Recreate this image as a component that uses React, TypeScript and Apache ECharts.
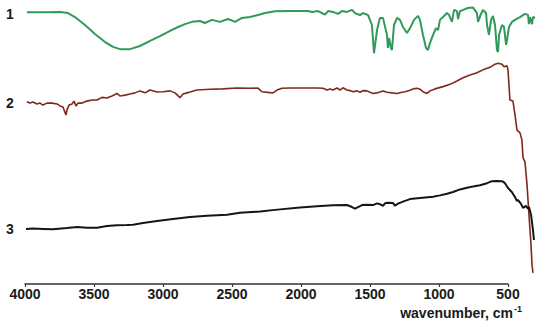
import React, { useEffect, useRef } from "react";
import * as echarts from "echarts";

// x-axis ticks (wavenumber, cm-1)
const xTicks = [4000, 3500, 3000, 2500, 2000, 1500, 1000, 500];
const dataRangeLow = 300; // spectra run past the last labelled tick
const curveLabels = ["1", "2", "3"];

// Spectrum 1 (green)
const wn1 = [3986, 3855, 3746, 3688, 3638, 3565, 3493, 3420, 3362, 3312, 3239, 3167, 3094, 3022, 2949, 2891, 2841, 2790, 2732, 2696, 2645, 2587, 2529, 2478, 2428, 2370, 2312, 2261, 2188, 2080, 1949, 1920, 1877, 1826, 1804, 1768, 1732, 1703, 1667, 1630, 1609, 1572, 1551, 1514, 1486, 1471, 1449, 1428, 1406, 1377, 1370, 1362, 1348, 1341, 1326, 1304, 1283, 1261, 1232, 1210, 1181, 1152, 1138, 1116, 1094, 1080, 1065, 1043, 1022, 1007, 993, 971, 942, 927, 906, 891, 870, 862, 848, 826, 790, 754, 725, 717, 696, 681, 659, 652, 638, 623, 609, 594, 580, 572, 565, 543, 529, 514, 507, 493, 471, 449, 413, 377, 355, 348, 341, 326, 319, 304];
const t1 = [95.7, 95.7, 95.8, 95.4, 94.0, 91.2, 88.0, 85.2, 83.5, 82.7, 82.7, 83.8, 85.6, 87.3, 89.1, 90.5, 91.5, 92.3, 92.6, 91.9, 93.0, 92.3, 93.3, 92.3, 93.7, 94.0, 94.7, 95.4, 96.0, 96.1, 96.1, 95.8, 96.1, 94.9, 96.1, 95.8, 95.1, 96.1, 95.8, 96.5, 95.4, 94.7, 95.4, 94.7, 91.2, 81.3, 89.4, 93.7, 93.7, 87.7, 83.1, 86.6, 83.1, 82.4, 91.2, 93.7, 93.0, 90.5, 88.4, 90.1, 93.0, 94.4, 93.0, 87.7, 83.1, 82.4, 84.9, 87.7, 90.1, 89.4, 93.0, 94.0, 95.4, 94.7, 92.3, 96.5, 96.1, 93.3, 96.1, 96.5, 97.2, 97.4, 95.4, 92.3, 95.1, 96.5, 95.4, 91.2, 87.7, 93.0, 94.4, 91.2, 82.4, 81.7, 87.7, 91.2, 90.5, 84.2, 85.9, 90.5, 92.3, 93.0, 94.0, 95.1, 94.7, 91.5, 94.0, 91.5, 94.0, 93.7];

// Spectrum 2 (brown)
const wn2 = [3986, 3964, 3942, 3913, 3891, 3870, 3841, 3804, 3768, 3746, 3725, 3703, 3696, 3681, 3659, 3645, 3630, 3616, 3587, 3551, 3514, 3478, 3442, 3406, 3370, 3333, 3312, 3275, 3239, 3203, 3167, 3130, 3094, 3043, 3000, 2949, 2913, 2877, 2855, 2826, 2804, 2754, 2659, 2565, 2464, 2370, 2312, 2283, 2225, 2203, 2174, 2138, 2080, 1986, 1884, 1841, 1812, 1790, 1768, 1739, 1717, 1696, 1667, 1645, 1623, 1594, 1572, 1551, 1522, 1500, 1478, 1449, 1428, 1406, 1377, 1341, 1304, 1268, 1246, 1210, 1188, 1159, 1138, 1116, 1087, 1065, 1029, 971, 920, 870, 826, 775, 725, 681, 630, 594, 572, 543, 529, 507, 500, 493, 486, 464, 449, 435, 413, 399, 391, 377, 362, 348, 333, 326, 319];
const t2 = [64.2, 63.7, 64.1, 63.4, 63.7, 63.0, 63.7, 63.7, 63.4, 62.7, 62.3, 59.5, 61.3, 63.0, 63.4, 64.4, 62.7, 63.7, 63.7, 64.4, 64.8, 64.8, 65.7, 65.5, 66.2, 67.1, 66.2, 66.5, 66.9, 67.3, 68.0, 67.3, 68.3, 67.6, 67.7, 68.0, 67.3, 65.6, 66.9, 67.3, 67.6, 68.3, 68.6, 68.7, 69.0, 68.9, 69.0, 67.7, 67.4, 67.3, 68.3, 68.9, 69.0, 69.0, 69.0, 68.9, 68.3, 68.7, 68.3, 69.0, 68.3, 69.1, 68.3, 68.1, 67.7, 68.0, 67.5, 68.1, 68.0, 67.5, 67.1, 67.3, 67.6, 68.0, 67.5, 67.3, 67.1, 67.5, 67.7, 68.2, 68.7, 68.9, 68.6, 67.7, 67.1, 68.0, 68.7, 69.5, 70.3, 71.5, 72.6, 73.6, 74.4, 75.4, 76.3, 77.4, 77.7, 77.4, 76.5, 76.8, 75.4, 70.1, 64.8, 64.4, 59.5, 54.2, 53.2, 50.7, 44.4, 43.0, 34.9, 24.3, 13.7, 6.7, 3.9];

// Spectrum 3 (black)
const wn3 = [3993, 3942, 3870, 3797, 3696, 3623, 3551, 3478, 3406, 3333, 3261, 3217, 3145, 3043, 2928, 2804, 2681, 2536, 2442, 2297, 2188, 2007, 1884, 1768, 1667, 1630, 1609, 1587, 1558, 1522, 1478, 1449, 1428, 1406, 1391, 1370, 1333, 1319, 1297, 1261, 1210, 1138, 1043, 993, 942, 898, 848, 797, 754, 703, 652, 616, 580, 543, 522, 500, 471, 449, 435, 428, 406, 391, 370, 355, 348, 333, 319, 312];
const t3 = [19.4, 19.5, 19.4, 19.3, 19.7, 20.1, 19.8, 19.8, 20.4, 20.7, 20.8, 20.9, 21.5, 22.2, 22.9, 23.6, 24.0, 24.4, 25.1, 25.5, 26.1, 26.9, 27.4, 27.7, 27.8, 27.1, 26.5, 27.1, 27.8, 27.9, 27.8, 28.4, 28.1, 27.5, 28.4, 28.6, 28.5, 27.6, 28.3, 29.0, 29.9, 30.3, 30.7, 31.2, 31.8, 32.4, 33.3, 33.9, 34.3, 34.8, 35.5, 36.2, 36.3, 36.2, 35.5, 33.8, 32.3, 30.6, 29.2, 29.6, 28.2, 26.8, 27.5, 26.5, 27.1, 24.3, 19.0, 15.5];

const zip = (xs: number[], ys: number[]) => xs.map((x, i) => [x, ys[i]]);

export default function App() {
  const ref = useRef<HTMLDivElement>(null);
  useEffect(() => {
    if (!ref.current) return;
    const chart = echarts.init(ref.current, undefined, { renderer: "svg" });
    const font = "'Liberation Sans', Arial, sans-serif";
    const gridLeft = 25;
    const axisRightPx = 508; // pixel of the 500 tick
    const hi = xTicks[0];
    const lo = xTicks[xTicks.length - 1];
    const pxPerUnit = (axisRightPx - gridLeft) / (hi - lo);
    const dataRightPx = gridLeft + (hi - dataRangeLow) * pxPerUnit;
    const lineSeries = (data: number[][], color: string, width: number) => ({
      type: "line",
      xAxisIndex: 1,
      yAxisIndex: 1,
      data,
      showSymbol: false,
      symbol: "none",
      clip: false,
      silent: true,
      lineStyle: { color, width },
      z: 3,
    });
    chart.setOption({
      animation: false,
      backgroundColor: "#ffffff",
      grid: [
        { left: gridLeft, right: 550 - axisRightPx, top: 0, bottom: 49 },
        { left: gridLeft, right: 550 - dataRightPx, top: 0, bottom: 49 },
      ],
      xAxis: [
        {
          type: "value",
          gridIndex: 0,
          inverse: true,
          min: lo,
          max: hi,
          interval: 500,
          axisLine: { show: true, lineStyle: { color: "#333", width: 1.5 } },
          axisTick: { show: true, length: 3, lineStyle: { color: "#333", width: 1.2 } },
          axisLabel: {
            margin: 3,
            color: "#1a1a1a",
            fontSize: 14,
            fontWeight: "bold",
            fontFamily: font,
            formatter: (v: number) => String(v),
          },
          splitLine: { show: false },
        },
        {
          type: "value",
          gridIndex: 1,
          inverse: true,
          min: dataRangeLow,
          max: hi,
          show: false,
          splitLine: { show: false },
        },
      ],
      yAxis: [
        { type: "value", gridIndex: 0, min: 0, max: 100, show: false },
        { type: "value", gridIndex: 1, min: 0, max: 100, show: false },
      ],
      graphic: [
        ...curveLabels.map((t, i) => ({
          type: "text",
          x: 10,
          y: [14, 103, 229][i],
          style: {
            text: t,
            fill: "#1a1a1a",
            font: `bold 14px ${font}`,
            textAlign: "center",
            textVerticalAlign: "middle",
          },
        })),
        {
          type: "text",
          x: 522,
          y: 304,
          style: {
            text: "{a|wavenumber, cm}{b|-1}",
            textAlign: "right",
            rich: {
              a: { fontSize: 14, fontWeight: "bold", fontFamily: font, fill: "#1a1a1a", color: "#1a1a1a", verticalAlign: "bottom", lineHeight: 16 },
              b: { fontSize: 9, fontWeight: "bold", fontFamily: font, fill: "#1a1a1a", color: "#1a1a1a", verticalAlign: "top", lineHeight: 16, padding: [0, 0, 6, 1] },
            },
          },
        },
      ],
      series: [
        lineSeries(zip(wn1, t1), "#2f9a59", 2),
        lineSeries(zip(wn2, t2), "#7e2a1a", 1.6),
        lineSeries(zip(wn3, t3), "#151515", 2),
      ],
    });
    return () => chart.dispose();
  }, []);
  return (
    <div
      ref={ref}
      style={{ position: "fixed", left: 0, top: 0, width: 550, height: 333 }}
    />
  );
}
